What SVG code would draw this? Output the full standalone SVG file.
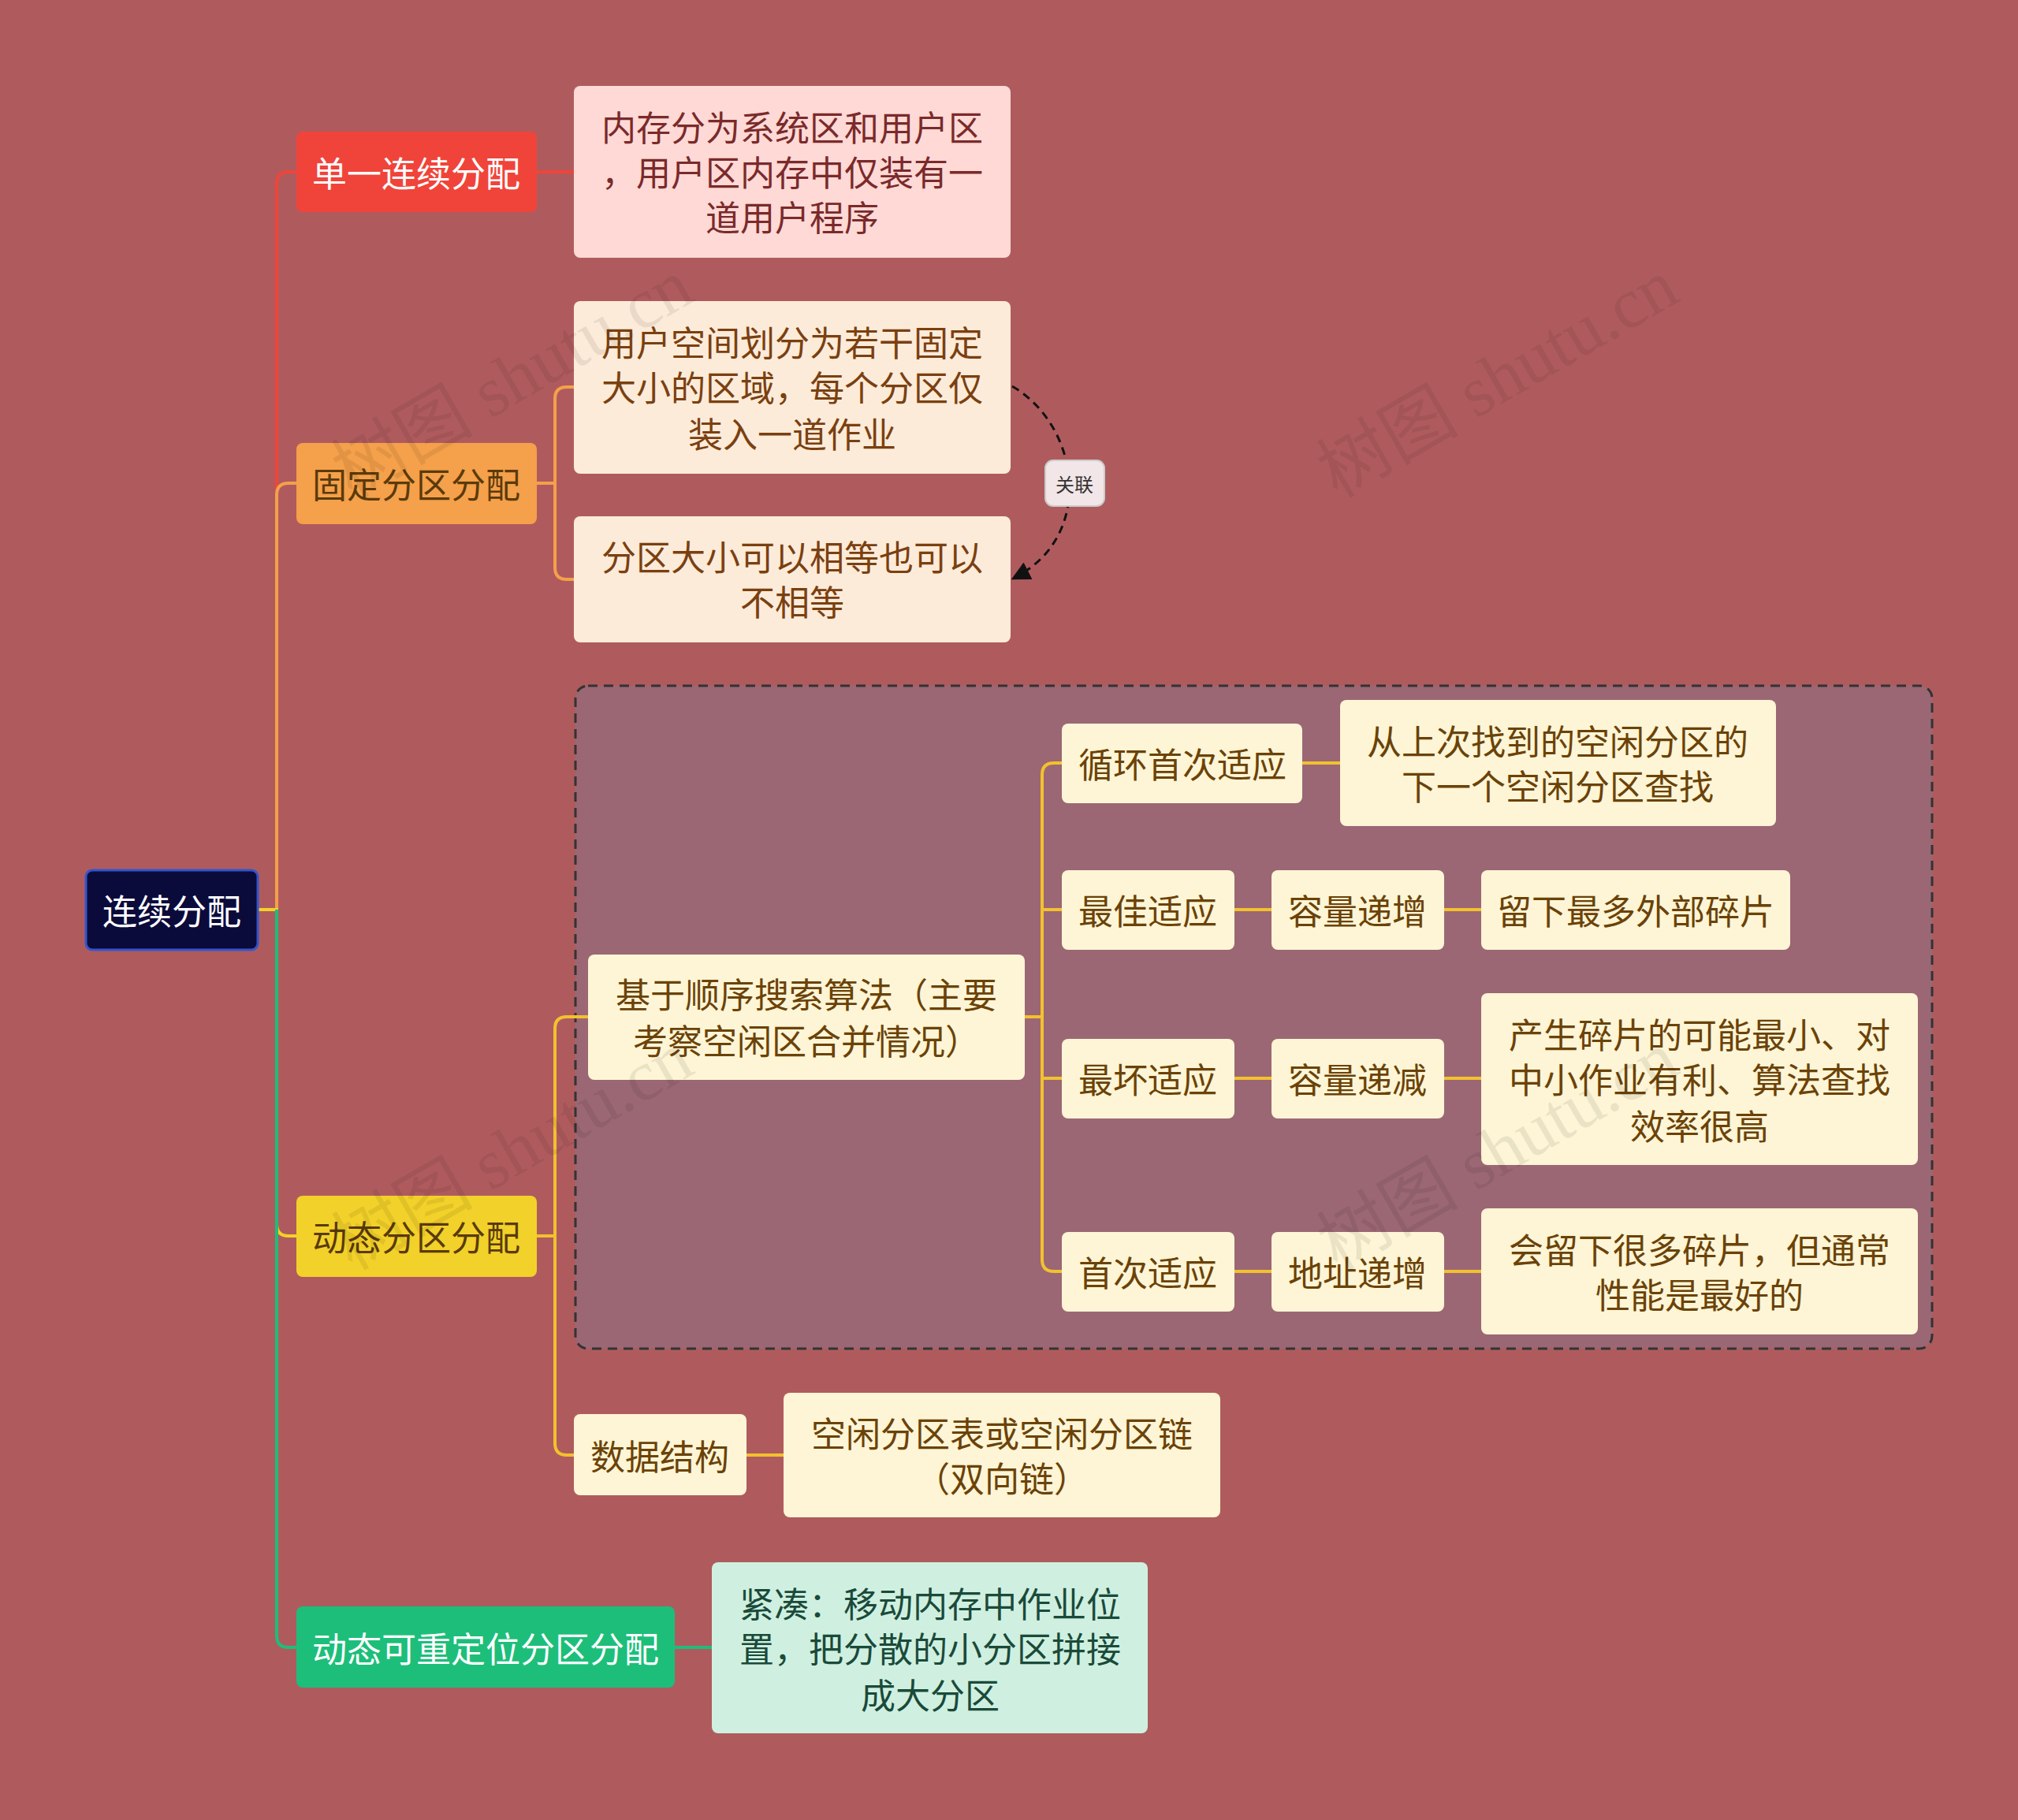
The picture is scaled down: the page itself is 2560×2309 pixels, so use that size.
<svg xmlns="http://www.w3.org/2000/svg" width="2560" height="2309" viewBox="0 0 2560 2309">
<style>
text{font-family:"Noto Sans CJK SC","Noto Sans",sans-serif;font-size:44px;text-anchor:middle;dominant-baseline:central}
.dk{fill:#5a3a0a}.wh{fill:#fff}.lf{fill:#6b4208}
.c{fill:none;stroke-width:4}
.wm{font-family:"Liberation Serif","Noto Sans CJK SC",serif;font-size:90px;fill:#000;opacity:0.07}
</style>
<defs><marker id="ah" viewBox="0 0 10 10" refX="8" refY="5" markerWidth="8" markerHeight="8" orient="auto"><path d="M0,0 L10,5 L0,10z" fill="#111"/></marker></defs>
<rect width="2560" height="2309" fill="#AF5B5D"/>
<rect x="730" y="870" width="1721" height="841" rx="16" fill="#9B6774" stroke="#333" stroke-width="3" stroke-dasharray="12 8"/>
<g id="connectors">
<path class="c" stroke="#F0443A" d="M327,1154 H351 V233 Q351,218 366,218 H376"/>
<path class="c" stroke="#F5A04A" d="M351,1154 V628 Q351,613 366,613 H376"/>
<path class="c" stroke="#F2D12A" d="M327,1154 H351 V1553 Q351,1568 366,1568 H376"/>
<path class="c" stroke="#1DBE7A" d="M351,1154 V2075 Q351,2090 366,2090 H376"/>
<path class="c" stroke="#F0443A" d="M681,218 H728"/>
<path class="c" stroke="#F5A04A" d="M681,613 H704 M728,491 H719 Q704,491 704,506 V720 Q704,735 719,735 H728"/>
<path class="c" stroke="#F2C12E" d="M681,1568 H704 M746,1290 H719 Q704,1290 704,1305 V1831 Q704,1846 719,1846 H728"/>
<path class="c" stroke="#F2C12E" d="M1300,1290 H1322 M1347,968 H1337 Q1322,968 1322,983 V1598 Q1322,1613 1337,1613 H1347 M1322,1154 H1347 M1322,1368 H1347"/>
<path class="c" stroke="#F2C12E" d="M1652,968 H1700 M1566,1154 H1613 M1832,1154 H1879 M1566,1368 H1613 M1832,1368 H1879 M1566,1613 H1613 M1832,1613 H1879 M947,1846 H994"/>
<path class="c" stroke="#1DBE7A" d="M856,2090 H903"/>
<path fill="none" stroke="#111" stroke-width="3" stroke-dasharray="10 7" d="M1284,490 C1370,540 1390,680 1287,733" marker-end="url(#ah)"/>
<rect x="1326" y="584" width="75" height="58" rx="10" fill="#F2E6E8" stroke="#ccc" stroke-width="2"/>
<text x="1363" y="613" style="font-size:24px;fill:#333">关联</text>
</g>
<g id="root"><rect x="109" y="1104" width="218" height="101" rx="8" fill="#0B0B3B" stroke="#3355cc" stroke-width="3"/><text class="wh" x="218" y="1154">连续分配</text></g>
<g id="n1"><rect x="376" y="167" width="305" height="102" rx="8" fill="#F0443A"/><text class="wh" x="528" y="218">单一连续分配</text></g>
<g id="n2"><rect x="376" y="562" width="305" height="103" rx="8" fill="#F5A04A"/><text class="dk" x="528" y="613">固定分区分配</text></g>
<g id="n3"><rect x="376" y="1517" width="305" height="103" rx="8" fill="#F2D12A"/><text class="dk" x="528" y="1568">动态分区分配</text></g>
<g id="n4"><rect x="376" y="2038" width="480" height="103" rx="8" fill="#1DBE7A"/><text class="wh" x="616" y="2090">动态可重定位分区分配</text></g>
<g id="l1"><rect x="728" y="109" width="554" height="218" rx="8" fill="#FFD9D6"/><text fill="#7a2a2a" x="1005" y="160">内存分为系统区和用户区</text><text fill="#7a2a2a" x="1005" y="217">，用户区内存中仅装有一</text><text fill="#7a2a2a" x="1005" y="274">道用户程序</text></g>
<g id="l2"><rect x="728" y="382" width="554" height="219" rx="8" fill="#FDEBD9"/><text fill="#7a4010" x="1005" y="433">用户空间划分为若干固定</text><text fill="#7a4010" x="1005" y="490">大小的区域，每个分区仅</text><text fill="#7a4010" x="1005" y="549">装入一道作业</text></g>
<g id="l3"><rect x="728" y="655" width="554" height="160" rx="8" fill="#FDEBD9"/><text fill="#7a4010" x="1005" y="705">分区大小可以相等也可以</text><text fill="#7a4010" x="1005" y="762">不相等</text></g>
<g id="l4"><rect x="746" y="1211" width="554" height="159" rx="8" fill="#FDF5D5"/><text class="lf" x="1023" y="1260">基于顺序搜索算法（主要</text><text class="lf" x="1023" y="1319">考察空闲区合并情况）</text></g>
<g id="l5"><rect x="1347" y="918" width="305" height="101" rx="8" fill="#FDF5D5"/><text class="lf" x="1500" y="968">循环首次适应</text></g>
<g id="l6"><rect x="1700" y="888" width="553" height="160" rx="8" fill="#FDF5D5"/><text class="lf" x="1976" y="939">从上次找到的空闲分区的</text><text class="lf" x="1976" y="996">下一个空闲分区查找</text></g>
<g id="l7"><rect x="1347" y="1104" width="219" height="101" rx="8" fill="#FDF5D5"/><text class="lf" x="1456" y="1154">最佳适应</text></g>
<g id="l8"><rect x="1613" y="1104" width="219" height="101" rx="8" fill="#FDF5D5"/><text class="lf" x="1722" y="1154">容量递增</text></g>
<g id="l9"><rect x="1879" y="1104" width="392" height="101" rx="8" fill="#FDF5D5"/><text class="lf" x="2075" y="1154">留下最多外部碎片</text></g>
<g id="l10"><rect x="1347" y="1318" width="219" height="101" rx="8" fill="#FDF5D5"/><text class="lf" x="1456" y="1368">最坏适应</text></g>
<g id="l11"><rect x="1613" y="1318" width="219" height="101" rx="8" fill="#FDF5D5"/><text class="lf" x="1722" y="1368">容量递减</text></g>
<g id="l12"><rect x="1879" y="1260" width="554" height="218" rx="8" fill="#FDF5D5"/><text class="lf" x="2156" y="1311">产生碎片的可能最小、对</text><text class="lf" x="2156" y="1368">中小作业有利、算法查找</text><text class="lf" x="2156" y="1427">效率很高</text></g>
<g id="l13"><rect x="1347" y="1563" width="219" height="101" rx="8" fill="#FDF5D5"/><text class="lf" x="1456" y="1613">首次适应</text></g>
<g id="l14"><rect x="1613" y="1563" width="219" height="101" rx="8" fill="#FDF5D5"/><text class="lf" x="1722" y="1613">地址递增</text></g>
<g id="l15"><rect x="1879" y="1533" width="554" height="160" rx="8" fill="#FDF5D5"/><text class="lf" x="2156" y="1584">会留下很多碎片，但通常</text><text class="lf" x="2156" y="1641">性能是最好的</text></g>
<g id="l16"><rect x="728" y="1794" width="219" height="103" rx="8" fill="#FDF5D5"/><text class="lf" x="837" y="1846">数据结构</text></g>
<g id="l17"><rect x="994" y="1767" width="554" height="158" rx="8" fill="#FDF5D5"/><text class="lf" x="1271" y="1817">空闲分区表或空闲分区链</text><text class="lf" x="1271" y="1874">（双向链）</text></g>
<g id="l18"><rect x="903" y="1982" width="553" height="217" rx="8" fill="#CFF0E0"/><text fill="#1a4a3a" x="1180" y="2033">紧凑：移动内存中作业位</text><text fill="#1a4a3a" x="1180" y="2090">置，把分散的小分区拼接</text><text fill="#1a4a3a" x="1180" y="2149">成大分区</text></g>
<text class="wm" transform="translate(650,480) rotate(-30)">树图 shutu.cn</text>
<text class="wm" transform="translate(1900,480) rotate(-30)">树图 shutu.cn</text>
<text class="wm" transform="translate(650,1460) rotate(-30)">树图 shutu.cn</text>
<text class="wm" transform="translate(1900,1460) rotate(-30)">树图 shutu.cn</text>
</svg>
